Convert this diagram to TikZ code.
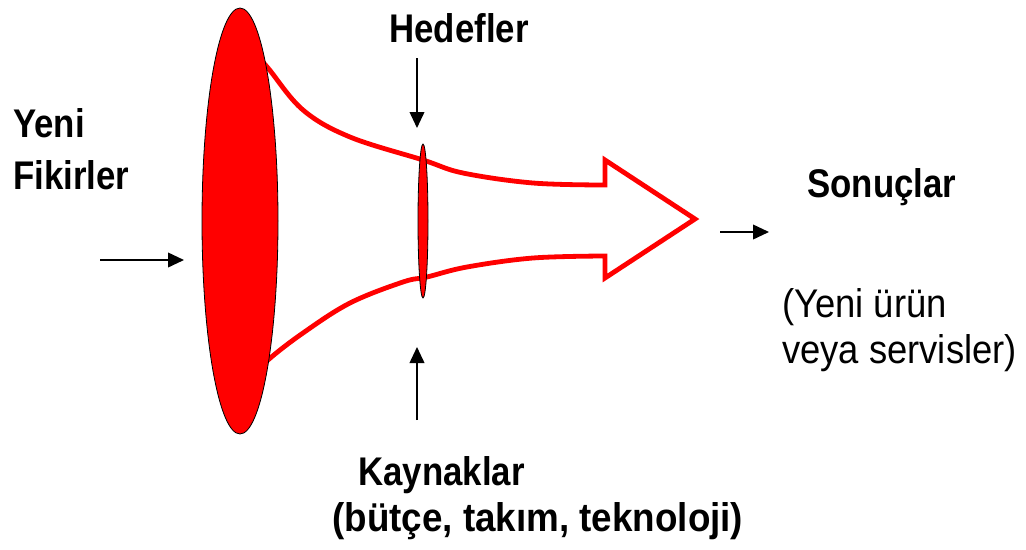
\documentclass[tikz,border=0pt]{standalone}
\usepackage{fontspec}
\setmainfont{Liberation Sans}[FakeStretch=0.87]
\newfontfamily\subfont{Liberation Sans}[FakeStretch=0.91]
\newfontfamily\widefont{Liberation Sans}[FakeStretch=0.92]
\usetikzlibrary{arrows.meta,shapes.geometric}

\begin{document}
\begin{tikzpicture}[
  x=0.75pt,y=-0.75pt,
  lbl/.style={inner sep=0pt,align=left,font=\bfseries\fontsize{30}{35}\selectfont},
  sublbl/.style={lbl,font=\subfont\fontsize{30}{35}\selectfont},
  disc/.style={ellipse,draw=black,line width=0.6pt,fill=red,inner sep=0pt},
  funnel/.style={draw=red,line width=3.6pt,line join=miter},
  feed/.style={draw,line width=1.3pt,-{Triangle[length=12pt,width=11pt]}}
]
\useasboundingbox (0,0) rectangle (1026,550);

% funnel outline ending in the big arrow
\draw[funnel] plot[smooth,tension=0.6] coordinates {(252,50) (268,68) (303,110) (350,137) (423,160) (463,173) (533,183) (605,185)}
  -- (605,160) -- (695,219) -- (605,278)
  -- plot[smooth,tension=0.6] coordinates {(605,256) (533,258) (467,267) (427,277) (403,282) (350,303) (303,333) (268,360) (252,378)};

\node[disc,minimum width=57pt,minimum height=319.5pt] (idea) at (240,221) {};
\node[disc,minimum width=7.5pt,minimum height=115.5pt] (gate) at (423,221) {};

\node[lbl,anchor=north west] (yeni) at (13,108) {Yeni\\[4pt]Fikirler};
\node[lbl,anchor=north] (hedef) at (459,13) {Hedefler};
\node[lbl,anchor=north west] (sonuc) at (807,168) {Sonuçlar};
\node[sublbl,anchor=north west] (urun) at (782,288) {(Yeni ürün\\veya servisler)};
\node[lbl,anchor=north west] (kaynak) at (332,456) {\hspace*{19.5pt}Kaynaklar\\{\widefont\bfseries (bütçe, takım, teknoloji)}};

\coordinate (yeniS) at (100,260);
\coordinate (yeniE) at (184,260);
\coordinate (hedefS) at (417,58);
\coordinate (hedefE) at (417,128);
\coordinate (kaynakS) at (417,420);
\coordinate (kaynakE) at (417,347);
\coordinate (sonucS) at (720,232);
\coordinate (sonucE) at (769,232);
\draw[feed] (yeniS) -- (yeniE);
\draw[feed] (hedefS) -- (hedefE);
\draw[feed] (kaynakS) -- (kaynakE);
\draw[feed] (sonucS) -- (sonucE);
\end{tikzpicture}
\end{document}
